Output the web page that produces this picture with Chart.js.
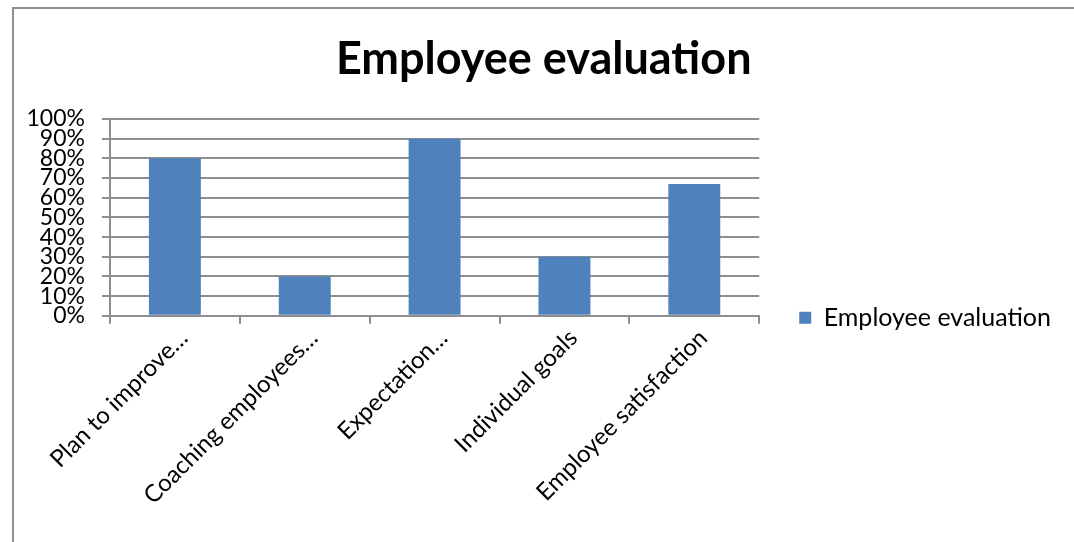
<!DOCTYPE html>
<html>
<head>
<meta charset="utf-8">
<title>Employee evaluation</title>
<script src="https://cdn.jsdelivr.net/npm/chart.js@4"></script>
<style>
  html, body { margin: 0; padding: 0; background: #fff; overflow: hidden; }
  #wrap { position: absolute; left: 0; top: 0; width: 1074px; height: 542px; }
  #frame {
    position: absolute; left: 12px; top: 7px; width: 1200px; height: 700px;
    border-left: 2px solid #8e8e8e; border-top: 2px solid #8e8e8e;
    pointer-events: none;
  }
</style>
</head>
<body>
<div id="wrap"><canvas id="evalChart"></canvas></div>
<div id="frame"></div>
<script>
// ── Data ──
const CATEGORIES = ['Plan to improve…', 'Coaching employees…', 'Expectation…', 'Individual goals', 'Employee satisfaction'];
const SCORES     = [80, 20, 90, 30, 67];   // percent
const SERIES     = 'Employee evaluation';
const Y_MAX      = 100;
const Y_STEP     = 10;

const GRID = '#8e8e8e';
const BAR  = '#4f81bd';

Chart.defaults.font.family = 'Lato, "Open Sans", sans-serif';
Chart.defaults.color = '#000';

// legend sits level with the category axis, not mid-height
const legendToAxis = {
  id: 'legendToAxis',
  afterLayout(chart) {
    const lg = chart.legend;
    const dy = chart.chartArea.bottom + 2 - (lg.top + lg.bottom) / 2;
    lg.top += dy;
    lg.bottom += dy;
  }
};

new Chart(document.getElementById('evalChart'), {
  type: 'bar',
  data: {
    labels: CATEGORIES,
    datasets: [{
      label: SERIES,
      data: SCORES,
      backgroundColor: BAR,
      borderWidth: 0,
      barPercentage: 0.4,
      categoryPercentage: 1.0,
    }],
  },
  options: {
    responsive: true,
    maintainAspectRatio: false,
    animation: false,
    layout: { padding: { left: 26.5, right: 13, top: 0, bottom: 32 } },
    plugins: {
      title: {
        display: true,
        text: SERIES,
        color: '#000',
        font: { size: 45, weight: 'bold' },
        padding: { top: 32, bottom: 33 },
      },
      legend: {
        position: 'right',
        maxWidth: 400,
        labels: { boxWidth: 12, boxHeight: 12, padding: 40, font: { size: 25 }, color: '#000' },
      },
      tooltip: { enabled: false },
    },
    scales: {
      x: {
        grid: { drawOnChartArea: false, color: GRID, lineWidth: 2, tickLength: 8, offset: true },
        border: { color: GRID, width: 2 },
        ticks: { autoSkip: false, minRotation: 45, maxRotation: 45, font: { size: 24 }, padding: 0, labelOffset: 9 },
        // rotated labels have room below the plot; don't let them push the axes inward
        afterFit(scale) { scale.paddingLeft = 0; scale.paddingRight = 0; },
      },
      y: {
        min: 0, max: Y_MAX,
        grid: { color: GRID, lineWidth: 2, tickLength: 8 },
        border: { color: GRID, width: 2 },
        ticks: {
          stepSize: Y_STEP, autoSkip: false, font: { size: 23 }, padding: 17,
          callback: v => v + '%',
        },
        // keep the gap only between labels and tick marks
        afterFit(scale) { scale.width -= scale.options.ticks.padding; },
      },
    },
  },
  plugins: [legendToAxis],
});
</script>
</body>
</html>
